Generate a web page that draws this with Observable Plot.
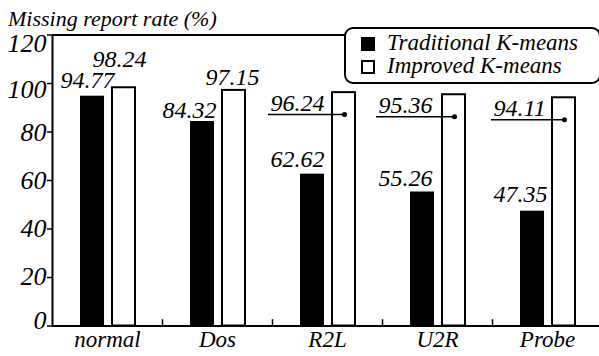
<!DOCTYPE html>
<html>
<head>
<meta charset="utf-8">
<script src="https://cdn.jsdelivr.net/npm/d3@7"></script>
<script src="https://cdn.jsdelivr.net/npm/@observablehq/plot@0.6"></script>
<style>
  html, body { margin: 0; padding: 0; background: #fff; }
</style>
</head>
<body>
<div id="wrap" style="position:relative;width:599px;height:356px;">
  <div id="chart"></div>
  <div id="title" style="position:absolute;left:8px;top:8px;font-family:'Liberation Serif','Times New Roman',Times,serif;font-style:italic;font-size:22px;line-height:22px;white-space:nowrap;"></div>
  <div id="legend" style="position:absolute;left:344px;top:27px;width:257px;height:57px;box-sizing:border-box;border:2px solid #000;border-radius:9px;background:#fff;"></div>
</div>
<script>
const categories = ["normal", "Dos", "R2L", "U2R", "Probe"];
const traditional = [94.77, 84.32, 62.62, 55.26, 47.35];
const improved = [98.24, 97.15, 96.24, 95.36, 94.11];
const seriesNames = ["Traditional K-means", "Improved K-means"];
const yTicks = [0, 20, 40, 60, 80, 100, 120];
const yTitle = "Missing report rate (%)";

// label placement (pixel offsets from band centre / bar top), styling only
const tradLabelPos = [[-47, -8], [-55, -4], [-57, -7], [-59, -6], [-54, -9]];
const impLabelPos = [[-15, -21], [-12, -5], [-57, 18], [-59, 18], [-54, 18]];
const leader = [false, false, true, true, true];
const yLabelDy = [-5, -1, 0, 0, 1, 6, 9];

const tradRows = categories.map((c, i) => ({category: c, value: traditional[i]}));
const impRows = categories.map((c, i) => ({category: c, value: improved[i]}));

const FONT = "'Liberation Serif', 'Times New Roman', Times, serif";
const txt = {fontFamily: FONT, fontStyle: "italic", fill: "black"};
const marks = [
  Plot.barY(tradRows, {x: "category", y: "value", fill: "black", insetLeft: 28, insetRight: 58}),
  Plot.barY(impRows, {x: "category", y: "value", fill: "white", stroke: "black", strokeWidth: 2, insetLeft: 60, insetRight: 27}),
  Plot.ruleX(categories.slice(1), {x: d => d, dx: -55, y1: 0, y2: 2.6, stroke: "black", strokeWidth: 1.5}),
  Plot.frame({stroke: "black", strokeWidth: 2}),
  Plot.axisX({tickSize: 0, tickPadding: 5, fontSize: 23, label: null, ...txt}),
  Plot.axisY({ticks: yTicks, tickSize: 5, strokeWidth: 1.5, label: null, tickFormat: () => ""})
];
yTicks.forEach((t, i) => {
  marks.push(Plot.axisY({ticks: [t], tickSize: 0, tickPadding: 6, fontSize: 26, label: null, tickFormat: d => String(d), dy: yLabelDy[i], ...txt}));
});
tradRows.forEach((r, i) => {
  marks.push(Plot.text([r], {x: "category", y: "value", text: d => d.value.toFixed(2), textAnchor: "start", lineAnchor: "bottom", dx: tradLabelPos[i][0], dy: tradLabelPos[i][1], fontSize: 24, ...txt}));
});
impRows.forEach((r, i) => {
  marks.push(Plot.text([r], {x: "category", y: "value", text: d => d.value.toFixed(2), textAnchor: "start", lineAnchor: "bottom", dx: impLabelPos[i][0], dy: impLabelPos[i][1], fontSize: 24, ...txt}));
  if (leader[i]) {
    marks.push(Plot.ruleY([r], {x1: "category", x2: "category", y: "value", dy: 22, insetLeft: 55 + impLabelPos[i][0] - 2, insetRight: 38, stroke: "black", strokeWidth: 1.5}));
    marks.push(Plot.dot([r], {x: "category", y: "value", dx: 17, dy: 22, r: 2.5, fill: "black", stroke: "none"}));
  }
});

const chart = Plot.plot({
  width: 599,
  height: 356,
  marginLeft: 52,
  marginRight: -3,
  marginTop: 34.5,
  marginBottom: 30.5,
  style: {fontFamily: FONT, fontStyle: "italic", fontSize: "24px", color: "black", background: "white"},
  x: {domain: categories, padding: 0, axis: null},
  y: {domain: [0, 120], axis: null},
  marks
});
document.getElementById("chart").appendChild(chart);

document.getElementById("title").textContent = yTitle;
const legend = document.getElementById("legend");
seriesNames.forEach((name, i) => {
  const sw = document.createElement("div");
  sw.setAttribute("style", `position:absolute;left:15px;top:${i === 0 ? 8 : 31}px;width:14px;height:14px;box-sizing:border-box;border:2px solid #000;background:${i === 0 ? "#000" : "#fff"};`);
  const lbl = document.createElement("div");
  lbl.setAttribute("style", `position:absolute;left:41px;top:${i === 0 ? 2 : 25}px;font-family:'Liberation Serif','Times New Roman',Times,serif;font-style:italic;font-size:23px;line-height:23px;white-space:nowrap;`);
  lbl.textContent = name;
  legend.appendChild(sw);
  legend.appendChild(lbl);
});
</script>
</body>
</html>
